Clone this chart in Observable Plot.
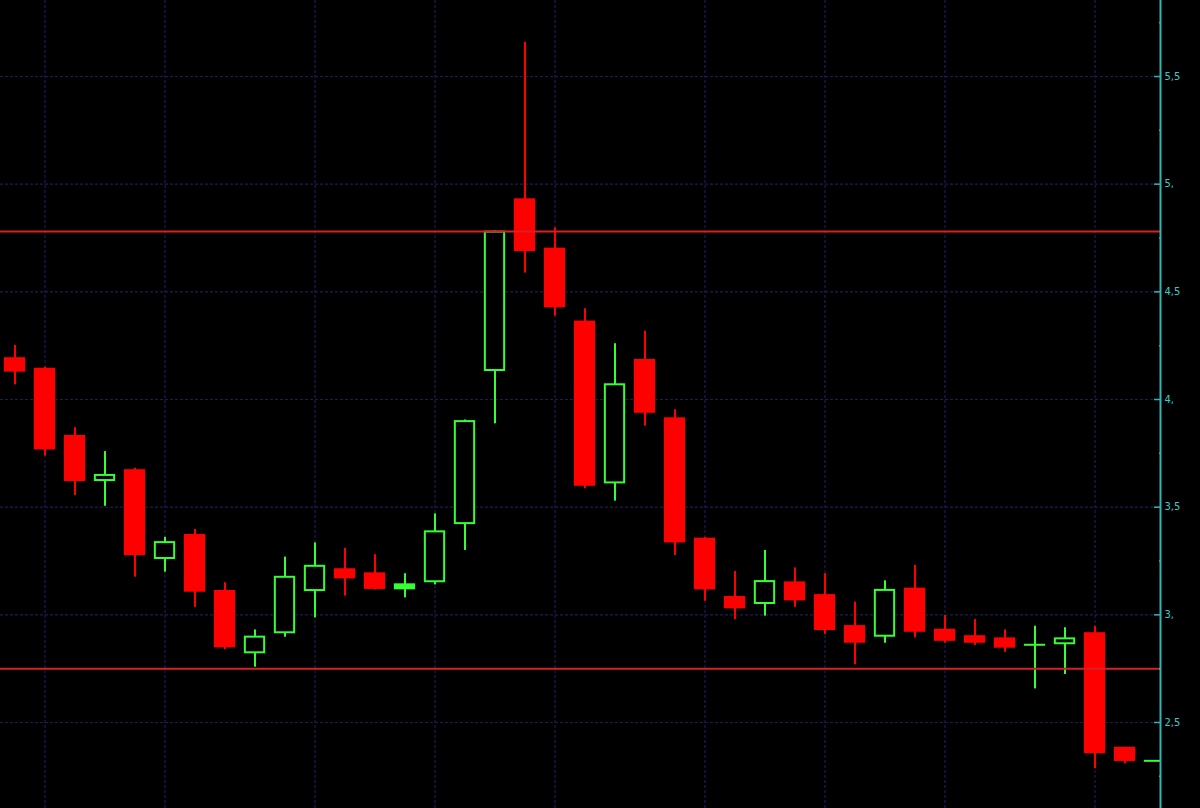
<!DOCTYPE html>
<html>
<head>
<meta charset="utf-8">
<script src="https://cdn.jsdelivr.net/npm/d3@7"></script>
<script src="https://cdn.jsdelivr.net/npm/@observablehq/plot@0.6"></script>
<style>
  html, body { margin: 0; padding: 0; background: #000; overflow: hidden; }
  #chart svg { display: block; }
</style>
</head>
<body>
<div id="chart"></div>
<script>
// Weekly candles (index 0..38)
const opens  = [4.194,4.145,3.833,3.619,3.674,3.257,3.373,3.113,2.819,2.912,3.108,3.214,3.195,3.116,3.149,3.419,4.13,4.932,4.703,4.364,3.608,4.186,3.915,3.356,3.085,3.048,3.153,3.094,2.95,2.896,3.124,2.933,2.903,2.893,2.861,2.861,2.917,2.385,2.322];
const highs  = [4.251,4.15,3.869,3.758,3.681,3.36,3.396,3.149,2.93,3.268,3.334,3.309,3.279,3.191,3.469,3.905,4.782,5.659,4.797,4.421,4.259,4.317,3.952,3.36,3.201,3.299,3.218,3.191,3.059,3.158,3.229,2.997,2.978,2.93,2.947,2.94,2.946,2.385,2.322];
const lows   = [4.068,3.737,3.554,3.504,3.175,3.198,3.035,2.838,2.757,2.896,2.986,3.087,3.115,3.079,3.139,3.299,3.887,4.587,4.387,3.585,3.528,3.876,3.276,3.063,2.977,2.994,3.035,2.909,2.768,2.868,2.893,2.868,2.858,2.826,2.656,2.723,2.285,2.308,2.322];
const closes = [4.127,3.766,3.619,3.652,3.275,3.34,3.105,2.847,2.901,3.179,3.23,3.167,3.118,3.144,3.39,3.902,4.782,4.687,4.426,3.597,4.073,3.936,3.334,3.116,3.028,3.159,3.065,2.927,2.868,3.118,2.919,2.877,2.868,2.845,2.861,2.893,2.355,2.319,2.322];

// Month separators (candle index) and horizontal levels
const monthStarts = [1, 5, 10, 14, 18, 23, 27, 31, 36];
const levels = [4.78, 2.75];

// Right axis ticks and their labels
const tickValues = [2.5, 3.0, 3.5, 4.0, 4.5, 5.0, 5.5];
const tickLabels = ["2,5", "3,", "3,5", "4,", "4,5", "5,", "5,5"];
const minorTicks = [2.25, 2.75, 3.25, 3.75, 4.25, 4.75, 5.25, 5.75];

const candles = opens.map((o, i) => ({i, o, h: highs[i], l: lows[i], c: closes[i]}));
const up = candles.filter(d => d.c >= d.o);
const down = candles.filter(d => d.c < d.o);
const flat = candles.filter(d => d.c === d.o);

const RED = "#ff0000", GREEN = "#33ff33", GRID = "#1c1c58", AXIS = "#2fb5b5";
const xDomain = [-0.4833, 38.1833];
const yDomain = [2.1006, 5.853];
const half = 0.355;

const chart = Plot.plot({
  width: 1200,
  height: 808,
  marginLeft: 0,
  marginRight: 40,
  marginTop: 0,
  marginBottom: 0,
  style: {background: "#000", color: "#33cccc", fontFamily: "DejaVu Sans, sans-serif", fontSize: "10px"},
  x: {domain: xDomain, axis: null},
  y: {domain: yDomain, axis: null},
  marks: [
    Plot.gridY(tickValues, {stroke: GRID, strokeOpacity: 1, strokeWidth: 1.2, strokeDasharray: "3,2"}),
    Plot.gridX(monthStarts, {stroke: GRID, strokeOpacity: 1, strokeWidth: 1.2, strokeDasharray: "3,2"}),
    // wicks
    Plot.ruleX(down, {x: "i", y1: "l", y2: "h", stroke: RED, strokeWidth: 2, clip: true}),
    Plot.ruleX(up, {x: "i", y1: "l", y2: "h", stroke: GREEN, strokeWidth: 2, clip: true}),
    // bodies
    Plot.rect(down, {x1: d => d.i - half, x2: d => d.i + half, y1: "c", y2: "o", fill: RED, clip: true}),
    Plot.rect(up.filter(d => d.c > d.o), {
      x1: d => d.i - half, x2: d => d.i + half, y1: "o", y2: "c",
      inset: 1,
      fill: d => (d.c - d.o) < 0.03 ? GREEN : "#000",
      stroke: GREEN, strokeWidth: 2, clip: true
    }),
    Plot.ruleY(flat, {y: "c", x1: d => d.i - half, x2: d => d.i + half, stroke: GREEN, strokeWidth: 2, clip: true}),
    // horizontal levels
    Plot.ruleY(levels, {stroke: "#d82020", strokeWidth: 2}),
    // right axis
    Plot.ruleX([xDomain[1]], {stroke: AXIS, strokeWidth: 2}),
    Plot.axisY(tickValues, {anchor: "right", tickSize: 7, dx: -7, tickFormat: () => "", stroke: AXIS, strokeWidth: 1.5}),
    Plot.axisY(minorTicks, {anchor: "right", tickSize: 2, dx: -2, tickFormat: () => "", stroke: AXIS, strokeWidth: 1.5}),
    Plot.axisY(tickValues, {anchor: "right", tickSize: 0, tickPadding: 4, tickFormat: (d) => tickLabels[tickValues.indexOf(d)], fill: "#33cccc"})
  ]
});
document.getElementById("chart").appendChild(chart);
</script>
</body>
</html>
